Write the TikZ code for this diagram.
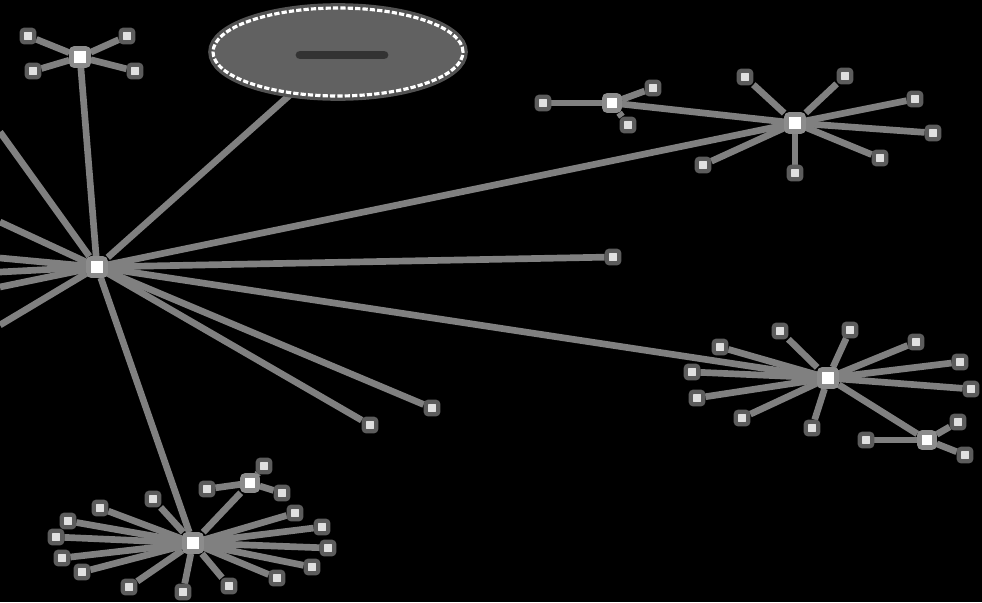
\documentclass[tikz,border=0pt]{standalone}
\usepackage{tikz}
\usetikzlibrary{shapes.geometric}
\usetikzlibrary{backgrounds}

\begin{document}
\begin{tikzpicture}[x=0.02cm,y=-0.02cm,
    edge line/.style={-,line width=3.8pt,color=white!50!black},
    hub node/.style={rectangle,fill=white,draw=white!55!black,line width=2.6pt,rounded corners=1.5pt,inner sep=0pt,minimum size=0.34cm},
    leaf node/.style={rectangle,fill=white!88!black,draw=white!36!black,line width=2.4pt,rounded corners=1.5pt,inner sep=0pt,minimum size=0.25cm},
    group node/.style={ellipse,fill=white!38!black,draw=white,line width=1.8pt,dash pattern=on 3pt off 1.2pt,
      preaction={draw=white!32!black,solid,line width=5.5pt},minimum width=5cm,minimum height=1.76cm}]
   \useasboundingbox (0,0) rectangle (982,602);
   % hubs
   \node[hub node] (h) at (97,267) {};
   \node[hub node] (t) at (80,57) {};
   \node[hub node] (r) at (795,123) {};
   \node[hub node] (s) at (828,378) {};
   \node[hub node] (b) at (193,543) {};
   \node[hub node,minimum size=0.3cm] (rs) at (612,103) {};
   \node[hub node,minimum size=0.3cm] (ss) at (927,440) {};
   \node[hub node,minimum size=0.3cm] (bs) at (250,483) {};
   % collapsed group
   \node[group node] (g) at (338,52) {};
   \draw[line width=5pt,black!80,line cap=round] (300,55) -- (384,55);
   % leaves
   \foreach \n/\x/\y in {1/613/257,2/432/408,3/370/425}
     \node[leaf node] (h\n) at (\x,\y) {};
   \foreach \n/\x/\y in {1/28/36,2/127/36,3/33/71,4/135/71}
     \node[leaf node] (t\n) at (\x,\y) {};
   \foreach \n/\x/\y in {1/745/77,2/845/76,3/915/99,4/933/133,5/880/158,6/795/173,7/703/165}
     \node[leaf node] (r\n) at (\x,\y) {};
   \foreach \n/\x/\y in {1/543/103,2/653/88,3/628/125}
     \node[leaf node] (q\n) at (\x,\y) {};
   \foreach \n/\x/\y in {1/780/331,2/850/330,3/916/342,4/960/362,5/971/389,6/812/428,7/742/418,8/697/398,9/692/372,10/720/347}
     \node[leaf node] (s\n) at (\x,\y) {};
   \foreach \n/\x/\y in {1/866/440,2/958/422,3/965/455}
     \node[leaf node] (p\n) at (\x,\y) {};
   \foreach \n/\x/\y in {1/153/499,2/100/508,3/68/521,4/56/537,5/62/558,6/82/572,7/129/587,
       8/183/592,9/229/586,10/277/578,11/312/567,12/328/548,13/322/527,14/295/513}
     \node[leaf node] (b\n) at (\x,\y) {};
   \foreach \n/\x/\y in {1/207/489,2/264/466,3/282/493}
     \node[leaf node] (a\n) at (\x,\y) {};
   % edges leaving the picture
   \foreach \n/\y in {1/132,2/222,3/258,4/272,5/287,6/325}
     \coordinate (o\n) at (0,\y);
   \begin{pgfonlayer}{background}
     \fill[black] (0,0) rectangle (982,602);
     \foreach \m in {t,r,s,b,g,h1,h2,h3,o1,o2,o3,o4,o5,o6}
       \path[edge line] (h) edge (\m);
     \foreach \n in {1,...,4} \path[edge line] (t) edge (t\n);
     \foreach \n in {1,...,7} \path[edge line] (r) edge (r\n);
     \path[edge line] (r) edge (rs);
     \foreach \n in {1,...,3} \path[edge line] (rs) edge (q\n);
     \foreach \n in {1,...,10} \path[edge line] (s) edge (s\n);
     \path[edge line] (s) edge (ss);
     \foreach \n in {1,...,3} \path[edge line] (ss) edge (p\n);
     \foreach \n in {1,...,14} \path[edge line] (b) edge (b\n);
     \path[edge line] (b) edge (bs);
     \foreach \n in {1,...,3} \path[edge line] (bs) edge (a\n);
   \end{pgfonlayer}
\end{tikzpicture}
\end{document}
